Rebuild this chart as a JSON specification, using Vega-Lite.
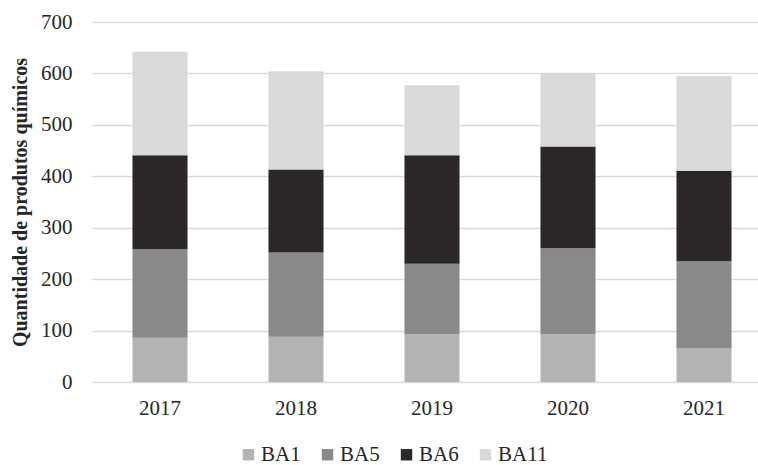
{
  "$schema": "https://vega.github.io/schema/vega-lite/v6.json",
  "autosize": {"type": "none"},
  "width": 680,
  "height": 360,
  "padding": {"left": 92, "top": 22, "right": 0, "bottom": 83},
  "background": "white",
  "config": {
    "font": "Liberation Serif",
    "view": {"stroke": null},
    "axis": {"labelFont": "Liberation Serif", "titleFont": "Liberation Serif", "labelColor": "#262626", "titleColor": "#262626"}
  },
  "data": {
    "values": [
      {"year": "2017", "series": "BA1", "ord": 1, "value": 86},
      {"year": "2017", "series": "BA5", "ord": 2, "value": 172},
      {"year": "2017", "series": "BA6", "ord": 3, "value": 183},
      {"year": "2017", "series": "BA11", "ord": 4, "value": 201},
      {"year": "2018", "series": "BA1", "ord": 1, "value": 88},
      {"year": "2018", "series": "BA5", "ord": 2, "value": 164},
      {"year": "2018", "series": "BA6", "ord": 3, "value": 161},
      {"year": "2018", "series": "BA11", "ord": 4, "value": 191},
      {"year": "2019", "series": "BA1", "ord": 1, "value": 93},
      {"year": "2019", "series": "BA5", "ord": 2, "value": 137},
      {"year": "2019", "series": "BA6", "ord": 3, "value": 211},
      {"year": "2019", "series": "BA11", "ord": 4, "value": 136},
      {"year": "2020", "series": "BA1", "ord": 1, "value": 93},
      {"year": "2020", "series": "BA5", "ord": 2, "value": 167},
      {"year": "2020", "series": "BA6", "ord": 3, "value": 198},
      {"year": "2020", "series": "BA11", "ord": 4, "value": 142},
      {"year": "2021", "series": "BA1", "ord": 1, "value": 65},
      {"year": "2021", "series": "BA5", "ord": 2, "value": 170},
      {"year": "2021", "series": "BA6", "ord": 3, "value": 176},
      {"year": "2021", "series": "BA11", "ord": 4, "value": 184}
    ]
  },
  "mark": {"type": "bar"},
  "encoding": {
    "x": {
      "field": "year", "type": "ordinal",
      "scale": {"paddingInner": 0.595, "paddingOuter": 0.2975},
      "axis": {"title": null, "labelAngle": 0, "labelFontSize": 21, "ticks": false, "domain": false, "labelPadding": 15, "grid": false}
    },
    "y": {
      "field": "value", "type": "quantitative", "aggregate": "sum", "stack": "zero",
      "scale": {"domain": [0, 700], "nice": false},
      "axis": {
        "title": "Quantidade de produtos químicos", "titleFontSize": 20, "titleFontWeight": "bold", "titlePadding": 10,
        "values": [0, 100, 200, 300, 400, 500, 600, 700],
        "labelFontSize": 21, "labelPadding": 20, "ticks": false, "domain": false,
        "grid": true, "gridColor": "#d9d9d9", "gridWidth": 1.5
      }
    },
    "color": {
      "field": "series", "type": "nominal",
      "scale": {"domain": ["BA1", "BA5", "BA6", "BA11"], "range": ["#b3b3b3", "#898989", "#2c2728", "#d9d9d9"]},
      "legend": {
        "title": null, "orient": "none", "direction": "horizontal", "legendX": 146, "legendY": 422,
        "symbolType": "square", "symbolSize": 130, "symbolStrokeWidth": 0,
        "labelFontSize": 21, "labelColor": "#262626", "labelFont": "Liberation Serif", "labelOffset": 2, "columnPadding": 16
      }
    },
    "order": {"field": "ord", "type": "quantitative"}
  }
}
